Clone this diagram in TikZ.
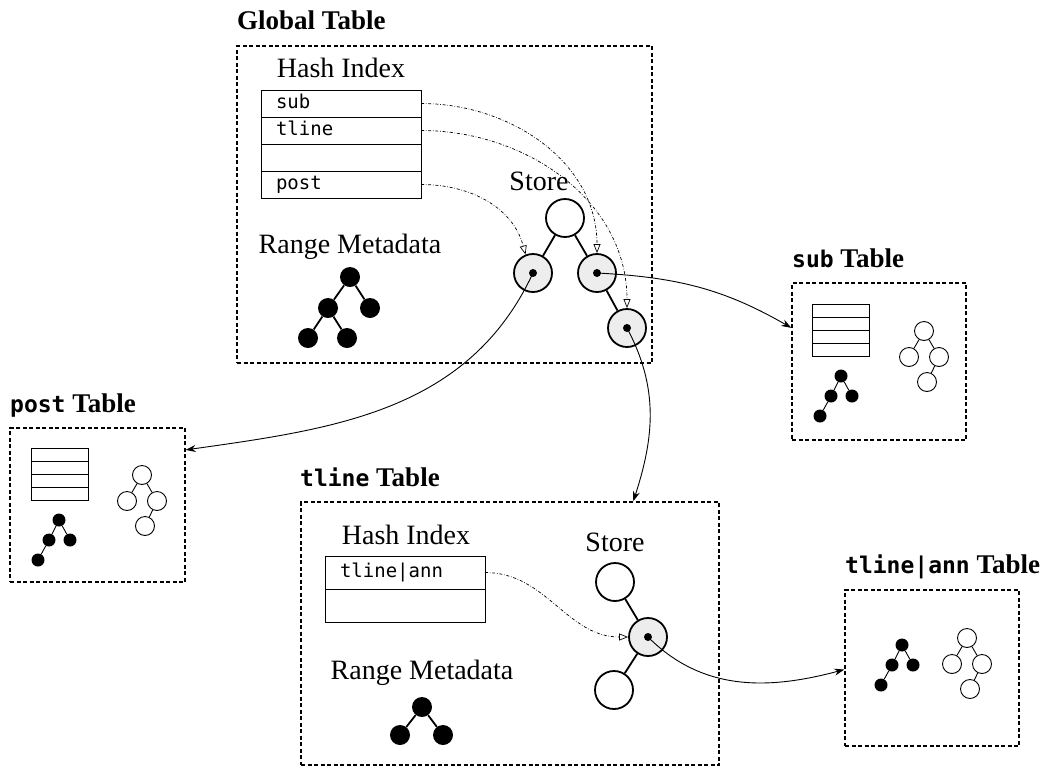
\documentclass[tikz,border=0pt]{standalone}
\usepackage{fontspec}
\setmainfont{Liberation Serif}
\setmonofont{DejaVu Sans Mono}
\usetikzlibrary{arrows.meta,positioning}

\begin{document}
\begin{tikzpicture}[x=1pt,y=1pt,
  box/.style={draw,line width=1.4pt,dash pattern=on 4pt off 2.5pt,inner sep=0pt},
  tabletitle/.style={anchor=base west,inner sep=0pt,font=\fontsize{27}{30}\selectfont\bfseries},
  lbl/.style={inner sep=0pt,font=\fontsize{28}{32}\selectfont},
  hashrow/.style={draw,line width=1pt,outer sep=0pt,minimum height=27pt,text width=130pt,inner xsep=15pt,inner ysep=0pt,text height=14pt,text depth=4pt,align=left,font=\fontsize{19}{22}\selectfont\ttfamily},
  store node/.style={circle,draw,line width=1.8pt,minimum size=38pt,inner sep=0pt},
  hit node/.style={store node,fill=black!7},
  meta node/.style={circle,fill=black,minimum size=20pt,inner sep=0pt},
  small meta/.style={circle,fill=black,minimum size=13pt,inner sep=0pt},
  small store/.style={circle,draw,line width=0.9pt,minimum size=19pt,inner sep=0pt},
  mini row/.style={draw,line width=0.9pt,minimum width=57pt,minimum height=13pt,inner sep=0pt,outer sep=0pt},
  ptr/.style={line width=0.7pt,dash pattern=on 3pt off 1.8pt on 0.6pt off 1.8pt,-{Triangle[open,length=9pt,width=7pt]}},
  link/.style={line width=0.9pt,-{Stealth[length=10pt,width=7pt]}}]
  \useasboundingbox (0,0) rectangle (1050,-769);

  % boxes and titles
  \node[box,minimum width=415pt,minimum height=317pt] (global) at (444.5,-204.5) {};
  \node[box,minimum width=175pt,minimum height=154pt] (post) at (97.5,-505) {};
  \node[box,minimum width=174pt,minimum height=157pt] (sub) at (879,-361.5) {};
  \node[box,minimum width=418pt,minimum height=263pt] (tline) at (510,-633.5) {};
  \node[box,minimum width=174pt,minimum height=156pt] (ann) at (932,-668) {};
  \node[tabletitle] (tg) at (237,-29) {Global Table};
  \node[tabletitle] (tp) at (10,-412) {{\ttfamily\fontsize{23}{30}\selectfont post} Table};
  \node[tabletitle] (ts) at (792,-267) {{\ttfamily\fontsize{23}{30}\selectfont sub} Table};
  \node[tabletitle] (tt) at (300,-486) {{\ttfamily\fontsize{23}{30}\selectfont tline} Table};
  \node[tabletitle] (ta) at (845,-573) {{\ttfamily\fontsize{23}{30}\selectfont tline|ann} Table};

  % global table
  \node[lbl] (ghash) at (341,-68) {Hash Index};
  \node[hashrow] (gsub) at (341,-103.5) {sub};
  \node[hashrow] (gtline) [below=0pt of gsub] {tline};
  \node[hashrow] (gempty) [below=0pt of gtline] {};
  \node[hashrow] (gpost) [below=0pt of gempty] {post};
  \node[lbl] (gstore) at (539,-181) {Store};
  \node[store node] (groot) at (565,-218) {};
  \node[hit node] (gl) at (533,-273) {};
  \node[hit node] (gr) at (597,-273) {};
  \node[hit node] (grr) at (627,-328) {};
  \path[line width=1.8pt] (groot) edge (gl) edge (gr) (gr) edge (grr);
  \node[lbl] (gmeta) at (350,-247) {Range Metadata};
  \node[meta node] (m1) at (350,-277) {};
  \node[meta node] (m2) at (328,-308) {};
  \node[meta node] (m3) at (370,-308) {};
  \node[meta node] (m4) at (308,-338) {};
  \node[meta node] (m5) at (347,-338) {};
  \path[line width=1.8pt] (m1) edge (m2) edge (m3) (m2) edge (m4) edge (m5);

  % tline table
  \node[lbl] (thash) at (406,-535) {Hash Index};
  \node[hashrow,minimum height=33pt] (ttl) at (405,-572.5) {tline|ann};
  \node[hashrow,minimum height=33pt] (tempty) [below=0pt of ttl] {};
  \node[lbl] (tstore) at (615,-542) {Store};
  \node[store node] (ttop) at (615,-582) {};
  \node[hit node] (tmid) at (648,-637) {};
  \node[store node] (tbot) at (614,-690) {};
  \path[line width=1.8pt] (ttop) edge (tmid) (tmid) edge (tbot);
  \node[lbl] (tmeta) at (422,-673) {Range Metadata};
  \node[meta node] (n1) at (422,-707) {};
  \node[meta node] (n2) at (400,-735) {};
  \node[meta node] (n3) at (443,-735) {};
  \path[line width=1.8pt] (n1) edge (n2) edge (n3);

  % small tables
  \foreach \nm/\x/\y in {p/59.5/-454.5, s/840.5/-310.5}
    \foreach \i in {0,...,3}
      \node[mini row] (\nm h\i) at (\x,\y-13*\i) {};
  \foreach \nm/\bx/\by/\wx/\wy in {p/59/-520/142/-475, s/841/-376/924/-331, a/902/-645/967/-638} {
    \node[small meta] (\nm b1) at (\bx,\by) {};
    \node[small meta] (\nm b2) at (\bx-10,\by-20) {};
    \node[small meta] (\nm b3) at (\bx+11,\by-20) {};
    \node[small meta] (\nm b4) at (\bx-21,\by-40) {};
    \path[line width=0.9pt] (\nm b1) edge (\nm b2) edge (\nm b3) (\nm b2) edge (\nm b4);
    \node[small store] (\nm w1) at (\wx,\wy) {};
    \node[small store] (\nm w2) at (\wx-15,\wy-26) {};
    \node[small store] (\nm w3) at (\wx+15,\wy-26) {};
    \node[small store] (\nm w4) at (\wx+3,\wy-51) {};
    \path[line width=0.9pt] (\nm w1) edge (\nm w2) edge (\nm w3) (\nm w3) edge (\nm w4);
  }

  % pointers
  \draw[ptr] (gsub.east) to[out=0,in=90] (gr.north);
  \draw[ptr] (gtline.east) to[out=0,in=90] (grr.north);
  \draw[ptr] (gpost.east) to[out=0,in=105] (gl.112);
  \draw[ptr] (ttl.east) to[out=0,in=180] (tmid.west);
  \draw[link] (gr.center) to[out=-3,in=150] (sub.159);
  \draw[link] (gl.center) to[out=-115,in=8] (post.32);
  \draw[link] (grr.center) to[out=-62,in=72] (tline.47);
  \draw[link] (tmid.center) to[out=-45,in=195] (ann.181);
  \foreach \n in {gl,gr,grr,tmid}
    \fill (\n) circle (4pt);
\end{tikzpicture}
\end{document}
